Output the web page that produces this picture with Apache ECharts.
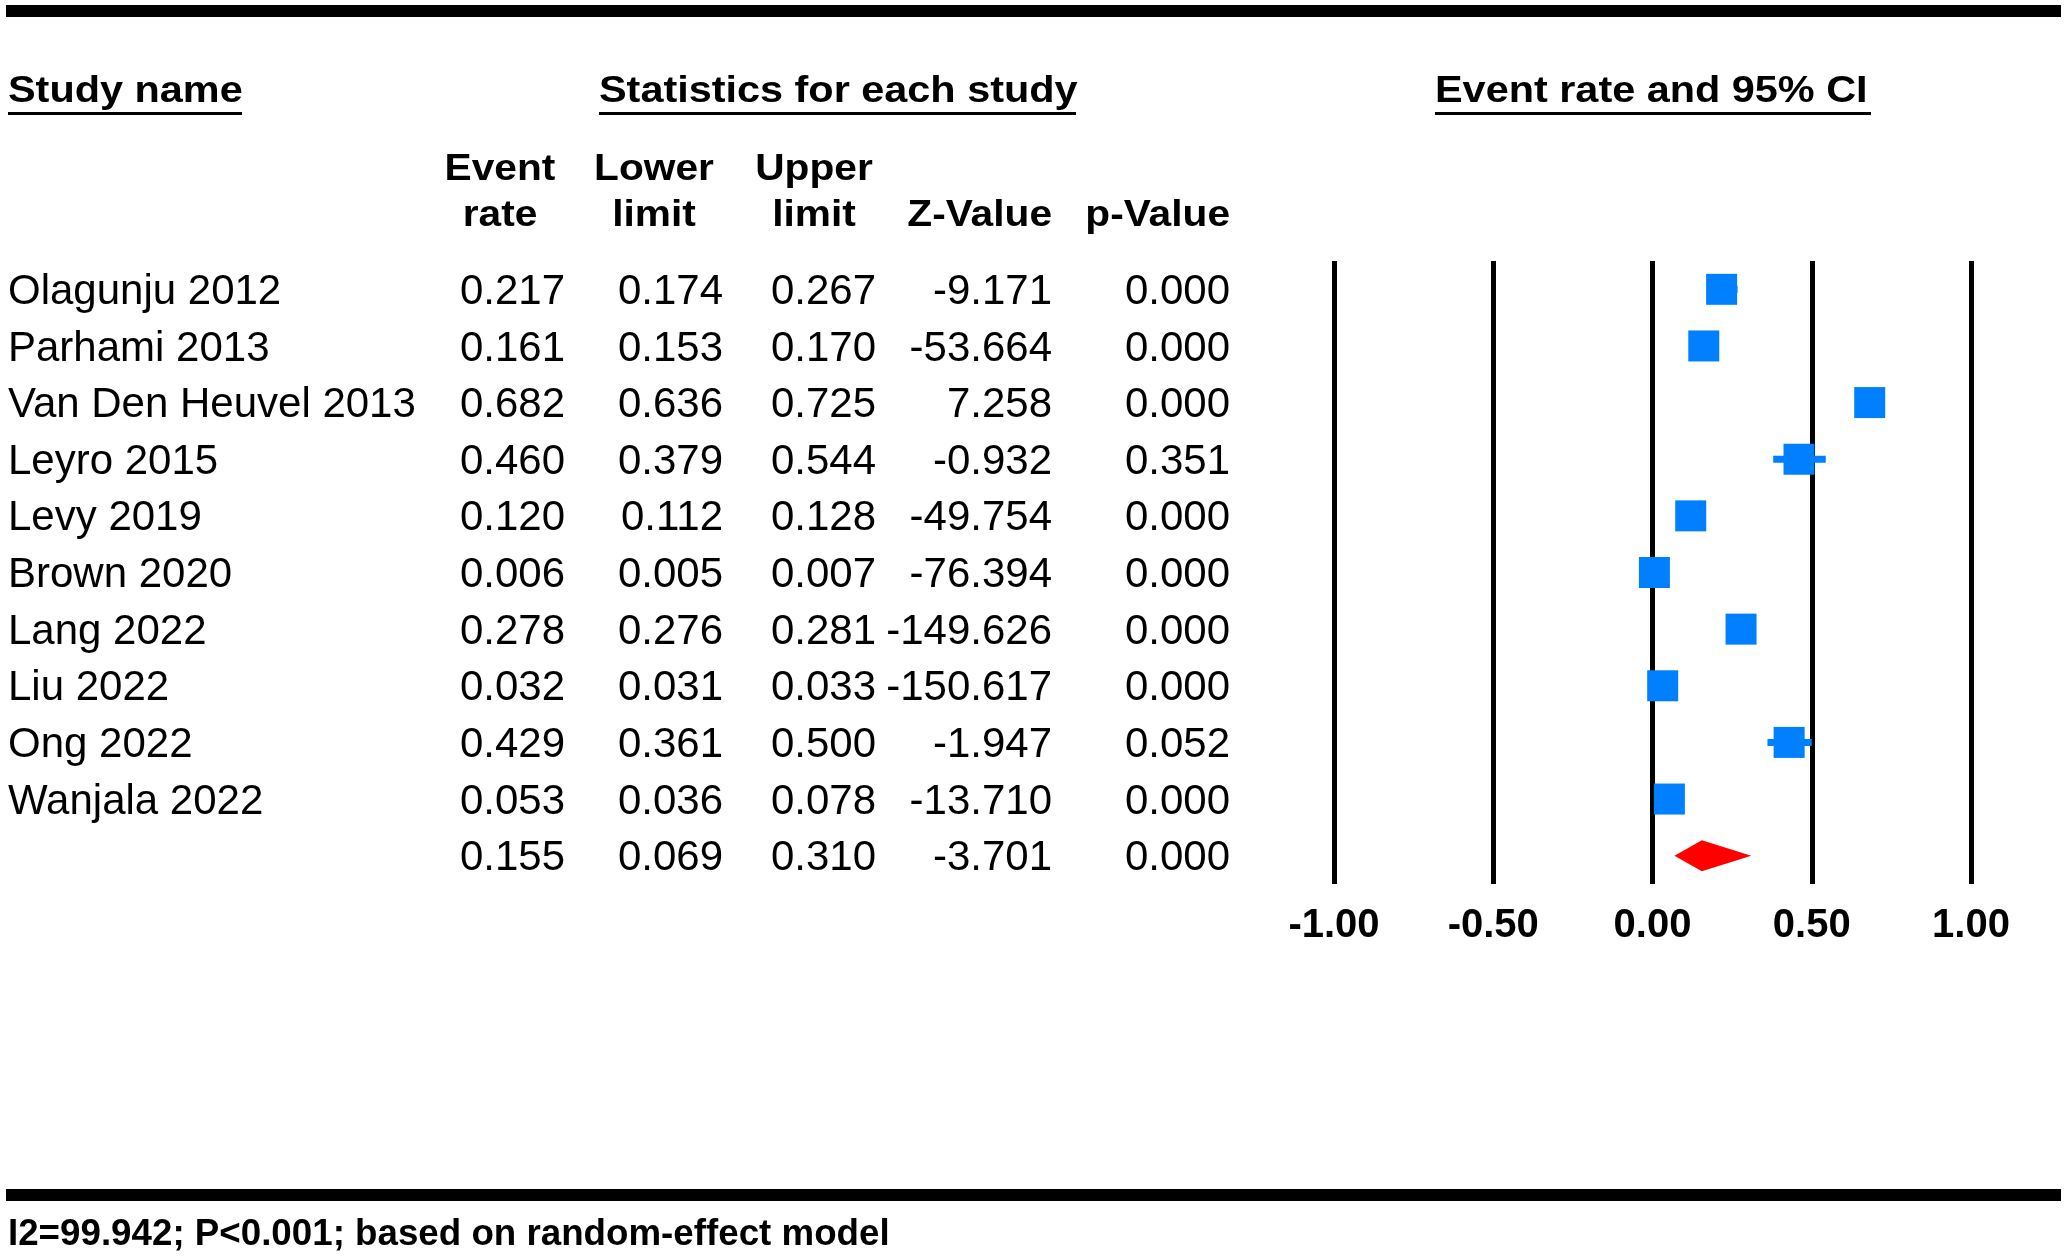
<!DOCTYPE html>
<html>
<head>
<meta charset="utf-8">
<script src="https://cdn.jsdelivr.net/npm/echarts@6/dist/echarts.min.js"></script>
<style>
  html, body { margin: 0; padding: 0; background: #fff; }
  #forest { width: 2064px; height: 1256px; }
</style>
</head>
<body>
<div id="forest"></div>
<script>
// study rows
var studies = ['Olagunju 2012', 'Parhami 2013', 'Van Den Heuvel 2013', 'Leyro 2015', 'Levy 2019',
  'Brown 2020', 'Lang 2022', 'Liu 2022', 'Ong 2022', 'Wanjala 2022'];
var eventRate = [0.217, 0.161, 0.682, 0.460, 0.120, 0.006, 0.278, 0.032, 0.429, 0.053];
var lowerLimit = [0.174, 0.153, 0.636, 0.379, 0.112, 0.005, 0.276, 0.031, 0.361, 0.036];
var upperLimit = [0.267, 0.170, 0.725, 0.544, 0.128, 0.007, 0.281, 0.033, 0.500, 0.078];
var zValue = [-9.171, -53.664, 7.258, -0.932, -49.754, -76.394, -149.626, -150.617, -1.947, -13.710];
var pValue = [0.000, 0.000, 0.000, 0.351, 0.000, 0.000, 0.000, 0.000, 0.052, 0.000];

// pooled (random effect) row
var pooledRate = 0.155, pooledLower = 0.069, pooledUpper = 0.310, pooledZ = -3.701, pooledP = 0.000;

var footnote = 'I2=99.942; P<0.001; based on random-effect model';

var FONT = '"Liberation Sans", Arial, sans-serif';
var rows = studies.concat(['']);
var nRows = rows.length;

// table columns: right edge x of each numeric column
var colRight = [565, 723, 876, 1052, 1230];

var chart = echarts.init(document.getElementById('forest'));

function txt(x, y, text, size, bold, align, sx) {
  return {
    type: 'text', x: x, y: y, scaleX: sx || 1, silent: true,
    style: {
      text: text, fill: '#000',
      font: (bold ? 'bold ' : '') + size + 'px ' + FONT,
      align: align || 'left', textAlign: align || 'left',
      verticalAlign: 'middle', textVerticalAlign: 'middle'
    }
  };
}
function bar(x, y, w, h) {
  return { type: 'rect', shape: { x: x, y: y, width: w, height: h }, style: { fill: '#000' }, silent: true };
}

var HS = 1.15;
var graphics = [
  bar(6, 5, 2055, 12),
  bar(6, 1189, 2055, 12),
  txt(8, 92, 'Study name', 36, true, 'left', HS),
  bar(8, 112, 234, 3),
  txt(599, 92, 'Statistics for each study', 36, true, 'left', HS),
  bar(599, 112, 477, 3),
  txt(1435, 92, 'Event rate and 95% CI', 36, true, 'left', HS),
  bar(1435, 112, 436, 3),
  txt(500, 170, 'Event', 36, true, 'center', 1.13),
  txt(500, 216, 'rate', 36, true, 'center', 1.13),
  txt(654, 170, 'Lower', 36, true, 'center', 1.13),
  txt(654, 216, 'limit', 36, true, 'center', 1.13),
  txt(814, 170, 'Upper', 36, true, 'center', 1.13),
  txt(814, 216, 'limit', 36, true, 'center', 1.13),
  txt(1052, 216, 'Z-Value', 36, true, 'right', 1.13),
  txt(1230, 216, 'p-Value', 36, true, 'right', 1.13),
  txt(8, 1235, footnote, 36, true, 'left', 1.02)
];

// table cells, one data item per row
var tableData = rows.map(function (r, i) { return [0, i]; });
function rowCells(i) {
  if (i < studies.length) {
    return [eventRate[i], lowerLimit[i], upperLimit[i], zValue[i], pValue[i]];
  }
  return [pooledRate, pooledLower, pooledUpper, pooledZ, pooledP];
}

var option = {
  animation: false,
  backgroundColor: '#fff',
  graphic: graphics,
  grid: { left: 1334, right: 93, top: 261, height: 623 },
  xAxis: {
    type: 'value', min: -1, max: 1, interval: 0.5,
    axisLine: { show: false }, axisTick: { show: false },
    splitLine: { show: true, lineStyle: { color: '#000', width: 5 } },
    axisLabel: {
      showMinLabel: true, showMaxLabel: true, margin: 22,
      color: '#000', fontSize: 40, fontWeight: 'bold', fontFamily: FONT,
      formatter: function (v) { return v.toFixed(2); }
    }
  },
  yAxis: {
    type: 'category', data: rows, inverse: true, show: false
  },
  series: [
    {
      type: 'custom', name: 'table', silent: true,
      data: tableData,
      renderItem: function (params, api) {
        var i = api.value(1);
        var y = api.coord([0, i])[1] + 3;
        var cells = rowCells(i);
        var children = [txt(8, y, rows[i], 42, false, 'left')];
        cells.forEach(function (v, c) {
          children.push(txt(colRight[c], y, v.toFixed(3), 42, false, 'right'));
        });
        return { type: 'group', children: children };
      }
    },
    {
      type: 'custom', name: 'ci', silent: true,
      data: studies.map(function (s, i) { return [lowerLimit[i], upperLimit[i], i]; }),
      renderItem: function (params, api) {
        var a = api.coord([api.value(0), api.value(2)]);
        var b = api.coord([api.value(1), api.value(2)]);
        return {
          type: 'line',
          shape: { x1: a[0], y1: a[1], x2: b[0], y2: b[1] },
          style: { stroke: '#0080ff', lineWidth: 7 }
        };
      },
      z: 3
    },
    {
      type: 'scatter', name: 'rate', silent: true,
      symbol: 'rect', symbolSize: 31,
      itemStyle: { color: '#0080ff', opacity: 1 },
      data: eventRate.map(function (v, i) { return [v, i]; }),
      z: 4
    },
    {
      type: 'custom', name: 'pooled', silent: true,
      data: [[pooledLower, pooledRate, pooledUpper, nRows - 1]],
      renderItem: function (params, api) {
        var r = api.value(3);
        var l = api.coord([api.value(0), r]);
        var m = api.coord([api.value(1), r]);
        var h = api.coord([api.value(2), r]);
        var hh = 15.5;
        return {
          type: 'polygon',
          shape: { points: [[l[0], l[1]], [m[0], m[1] - hh], [h[0], h[1]], [m[0], m[1] + hh]] },
          style: { fill: '#ff0000' }
        };
      },
      z: 4
    }
  ]
};

chart.setOption(option);
</script>
</body>
</html>
